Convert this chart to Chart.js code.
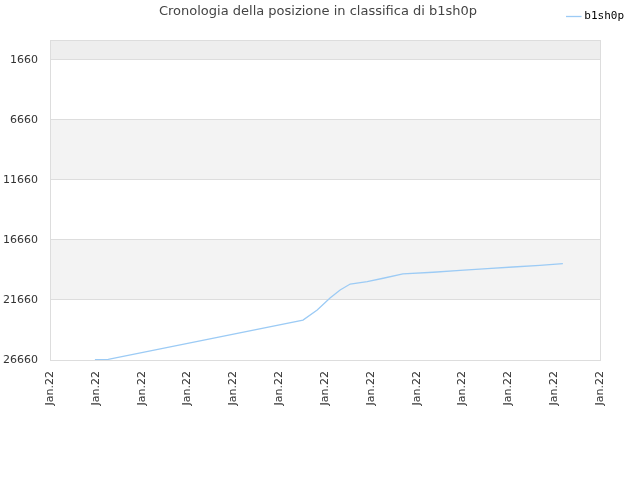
<!DOCTYPE html>
<html>
<head>
<meta charset="utf-8">
<script src="https://cdn.jsdelivr.net/npm/chart.js@4/dist/chart.umd.min.js"></script>
<style>
  html, body { margin: 0; padding: 0; background: #fff; }
</style>
</head>
<body>
<canvas id="rankChart" width="640" height="480"></canvas>
<script>
// position in x-axis units (one unit per "Jan.22" tick) and rank
const dayPos = [0.98, 1.27, 5.52, 5.83, 6.11, 6.33, 6.55, 6.92, 7.27, 7.70, 8.36, 8.95, 9.54, 10.10, 10.69, 11.19];
const ranks  = [26640, 26600, 23330, 22490, 21490, 20830, 20330, 20135, 19850, 19490, 19350, 19185, 19050, 18910, 18770, 18635];
const xTickLabels = ['Jan.22', 'Jan.22', 'Jan.22', 'Jan.22', 'Jan.22', 'Jan.22', 'Jan.22',
                     'Jan.22', 'Jan.22', 'Jan.22', 'Jan.22', 'Jan.22', 'Jan.22'];
const yTicks = [1660, 6660, 11660, 16660, 21660, 26660];
// shaded bands [from, to, colour]
const bands = [[0, 1660, '#eeeeee'], [6660, 11660, '#f3f3f3'], [16660, 21660, '#f3f3f3']];

const points = dayPos.map((x, i) => ({ x: x, y: ranks[i] }));

// background bands + frame
const bandPlugin = {
    id: 'bands',
    beforeDraw(chart) {
        const { ctx, chartArea, scales } = chart;
        ctx.save();
        bands.forEach(b => {
            const y1 = scales.y.getPixelForValue(b[0]);
            const y2 = scales.y.getPixelForValue(b[1]);
            ctx.fillStyle = b[2];
            ctx.fillRect(chartArea.left, Math.min(y1, y2), chartArea.right - chartArea.left, Math.abs(y2 - y1));
        });
        ctx.restore();
    },
    afterDraw(chart) {
        const { ctx, chartArea } = chart;
        ctx.save();
        ctx.strokeStyle = '#dddddd';
        ctx.lineWidth = 1;
        ctx.strokeRect(chartArea.left + 0.5, chartArea.top + 0.5, chartArea.right - chartArea.left, chartArea.bottom - chartArea.top);
        ctx.restore();
    }
};

// push the legend further right, into the right margin
const legendShift = {
    id: 'legendShift',
    afterLayout(chart) {
        chart.legend.left += 35;
        chart.legend.right += 35;
    }
};

// title on the same row as the legend
const titlePlugin = {
    id: 'topTitle',
    afterDraw(chart) {
        const ctx = chart.ctx;
        ctx.save();
        ctx.font = '13px "DejaVu Sans", sans-serif';
        ctx.fillStyle = '#444444';
        ctx.textAlign = 'center';
        ctx.textBaseline = 'middle';
        ctx.fillText('Cronologia della posizione in classifica di b1sh0p', 318, 12);
        ctx.restore();
    }
};

new Chart(document.getElementById('rankChart'), {
    type: 'line',
    data: {
        datasets: [{
            label: 'b1sh0p',
            data: points,
            borderColor: '#9ccbf5',
            backgroundColor: '#9ccbf5',
            borderWidth: 1.3,
            pointRadius: 0,
            tension: 0,
            fill: false
        }]
    },
    options: {
        responsive: false,
        animation: false,
        devicePixelRatio: 1,
        layout: { padding: { left: 0, right: 40, top: 0, bottom: 0 } },
        plugins: {
            title: { display: false },
            tooltip: { enabled: false },
            legend: {
                position: 'top',
                align: 'end',
                labels: {
                    usePointStyle: true,
                    pointStyle: 'line',
                    boxWidth: 10,
                    color: '#000',
                    padding: 11,
                    font: { family: '"DejaVu Sans Mono", monospace', size: 11 }
                }
            }
        },
        scales: {
            x: {
                type: 'linear',
                min: 0,
                max: 12,
                grid: { display: false },
                border: { display: false },
                ticks: {
                    stepSize: 1,
                    autoSkip: false,
                    maxRotation: 90,
                    minRotation: 90,
                    color: '#333',
                    font: { family: '"DejaVu Sans", sans-serif', size: 11 },
                    callback: (v) => xTickLabels[v]
                },
                afterFit(scale) { scale.height = 120; }
            },
            xTop: {
                type: 'linear',
                position: 'top',
                min: 0,
                max: 12,
                grid: { display: false },
                border: { display: false },
                ticks: { display: false },
                afterFit(scale) { scale.height = 8; }
            },
            y: {
                reverse: true,
                min: 0,
                max: 26660,
                afterBuildTicks(scale) { scale.ticks = yTicks.map(v => ({ value: v })); },
                grid: { color: '#dddddd', drawTicks: false },
                border: { display: false },
                ticks: {
                    padding: 12,
                    color: '#333',
                    font: { family: '"DejaVu Sans", sans-serif', size: 11 },
                    callback: (v) => String(v)
                },
                afterFit(scale) { scale.width = 50; }
            }
        }
    },
    plugins: [bandPlugin, legendShift, titlePlugin]
});
</script>
</body>
</html>
